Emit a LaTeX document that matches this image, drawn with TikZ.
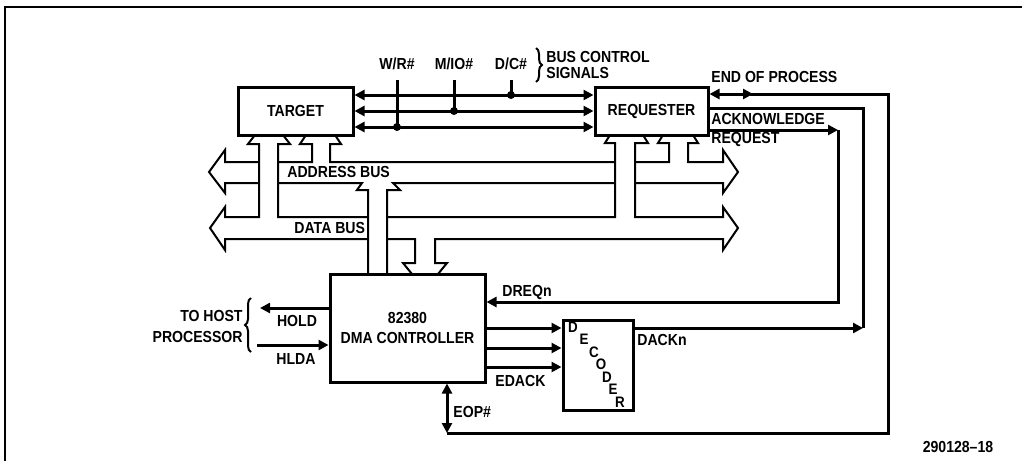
\documentclass[tikz,border=0pt]{standalone}
\usepackage{fontspec}
\setmainfont{Liberation Sans}
\newfontfamily\lblfam{Liberation Sans}[FakeStretch=0.88]
\usetikzlibrary{arrows.meta, decorations.pathreplacing}

\newcommand{\lblfont}{\lblfam\fontsize{8}{10}\selectfont\bfseries}

\begin{document}
\begin{tikzpicture}[x=0.5pt, y=0.5pt, >={Triangle[length=5pt, width=5pt]},
			blk/.style={draw, line width=1.5pt, font=\lblfont},
			sig/.style={line width=1.5pt},
			bus/.style={line width=1pt},
			lbl/.style={font=\lblfont},
			brc/.style={line width=1pt, decorate, decoration={brace, amplitude=3pt}}]
			\tikzstyle{every node}+=[inner sep=0pt]
			\useasboundingbox (0,0) rectangle (1022,-461);
			\draw [line width=1pt] (5,-461) -- (5,-7) -- (1022,-7);
			% blocks
			\node [blk, minimum width=57.5pt, minimum height=24pt] (target) at (295.5,-111) {TARGET};
			\node [blk, minimum width=56.5pt, minimum height=24pt] (requester) at (651.5,-111) {REQUESTER};
			\node [blk, minimum width=77.5pt, minimum height=54pt, align=center] (dma) at (407.5,-328) {82380\\DMA CONTROLLER};
			\node [blk, minimum width=35pt, minimum height=45pt] (decoder) at (598,-365) {};
			\foreach \ch/\px/\py [count=\i] in {D/573/-327, E/584/-339.5, C/594/-352, O/601/-364.5, D/607/-377, E/613/-389.5, R/620/-402}
				\node [font=\lblfam\fontsize{7.6}{9}\selectfont\bfseries] (dec\i) at (\px,\py) {\ch};
			% bus control signals
			\foreach \y in {-95,-111,-127}
				\draw [sig, <->] (target.east |- 0,\y) -- (requester.west |- 0,\y);
			\coordinate (wrdot) at (397,-127);
			\coordinate (iodot) at (454,-111);
			\coordinate (dcdot) at (511,-95);
			\node [lbl] (wr) at (397,-64) {W/R\#};
			\node [lbl] (io) at (454,-64) {M/IO\#};
			\node [lbl] (dc) at (511,-64) {D/C\#};
			\draw [sig] (wrdot |- 0,-80) -- (wrdot);
			\draw [sig] (iodot |- 0,-80) -- (iodot);
			\draw [sig] (dcdot |- 0,-80) -- (dcdot);
			\fill (wrdot) circle [radius=2pt];
			\fill (iodot) circle [radius=2pt];
			\fill (dcdot) circle [radius=2pt];
			\draw [brc] (536,-48) -- (536,-82);
			\node [lbl, anchor=west] (bcs1) at (546,-57) {BUS CONTROL};
			\node [lbl, anchor=west] (bcs2) at (546,-73) {SIGNALS};
			% address bus
			\draw [bus] (259,-162) -- (225,-162) -- (225,-150) -- (209,-172) -- (225,-193) -- (225,-183) -- (259,-183);
			\draw [bus] (278,-162) -- (312,-162) -- (312,-144) -- (300,-144) -- (306,-135);
			\draw [bus] (335,-135) -- (341,-144) -- (330,-144) -- (330,-162) -- (615,-162);
			\draw [bus] (635,-162) -- (669,-162) -- (669,-143) -- (658,-143) -- (663,-135);
			\draw [bus] (693,-135) -- (698,-143) -- (688,-143) -- (688,-162) -- (723,-162) -- (723,-150) -- (738,-172) -- (723,-193) -- (723,-183) -- (635,-183);
			\draw [bus] (278,-183) -- (362,-183) -- (357,-190) -- (368,-190) -- (368,-274);
			\draw [bus] (387,-274) -- (387,-190) -- (400,-190) -- (393,-183) -- (615,-183);
			\node [lbl, anchor=west] (abus) at (287,-172) {ADDRESS BUS};
			% data bus
			\draw [bus] (255,-135) -- (248,-144) -- (259,-144) -- (259,-217) -- (225,-217) -- (225,-207) -- (210,-228) -- (225,-250) -- (225,-239) -- (368,-239);
			\draw [bus] (283,-135) -- (290,-144) -- (278,-144) -- (278,-217) -- (368,-217);
			\draw [bus] (387,-217) -- (615,-217) -- (615,-143) -- (605,-143) -- (610,-135);
			\draw [bus] (643,-135) -- (648,-143) -- (635,-143) -- (635,-217) -- (723,-217) -- (723,-207) -- (738,-228) -- (723,-250) -- (723,-239) -- (435,-239) -- (435,-263) -- (447,-263) -- (438,-274);
			\draw [bus] (387,-239) -- (415,-239) -- (415,-263) -- (403,-263) -- (412,-274);
			\node [lbl, anchor=west] (dbus) at (294,-228) {DATA BUS};
			% requester side signals
			\coordinate (eop) at (447,-433);
			\draw [sig, <->] (requester.east |- 0,-94) -- (753,-94);
			\draw [sig] (750,-94) -- (888,-94) -- (888,-433) -- (eop);
			\draw [sig, <->] (dma.south -| eop) -- (eop);
			\node [lbl, anchor=west] (eoplbl) at (711,-77) {END OF PROCESS};
			\draw [sig] (requester.east |- 0,-108) -- (863,-108) -- (863,-328);
			\draw [sig, ->] (decoder.east |- 0,-328) -- (863,-328);
			\draw [sig, ->] (requester.east |- 0,-130) -- (838,-130);
			\draw [sig, ->] (838,-130) -- (838,-302) -- (dma.east |- 0,-302);
			\node [lbl, anchor=west] (acklbl) at (711,-119) {ACKNOWLEDGE};
			\node [lbl, anchor=west] (reqlbl) at (711,-139) {REQUEST};
			% dma side signals
			\foreach \y in {-328,-348,-367}
				\draw [sig, ->] (dma.east |- 0,\y) -- (decoder.west |- 0,\y);
			\draw [sig, ->] (dma.west |- 0,-308) -- (260,-308);
			\draw [sig, ->] (257,-345) -- (dma.west |- 0,-345);
			\node [lbl] (hold) at (297,-321) {HOLD};
			\node [lbl] (hlda) at (296,-359) {HLDA};
			\draw [brc] (251,-352) -- (251,-298);
			\node [lbl, anchor=east] (host1) at (243,-316) {TO HOST};
			\node [lbl, anchor=east] (host2) at (243,-337) {PROCESSOR};
			\node [lbl, anchor=west] (dreq) at (502,-292) {DREQn};
			\node [lbl, anchor=west] (edack) at (495,-381) {EDACK};
			\node [lbl, anchor=west] (eopn) at (453,-412) {EOP\#};
			\node [lbl, anchor=west] (dack) at (637,-340) {DACKn};
			\node [lbl] (fig) at (958,-447) {290128\textendash 18};
\end{tikzpicture}
\end{document}
